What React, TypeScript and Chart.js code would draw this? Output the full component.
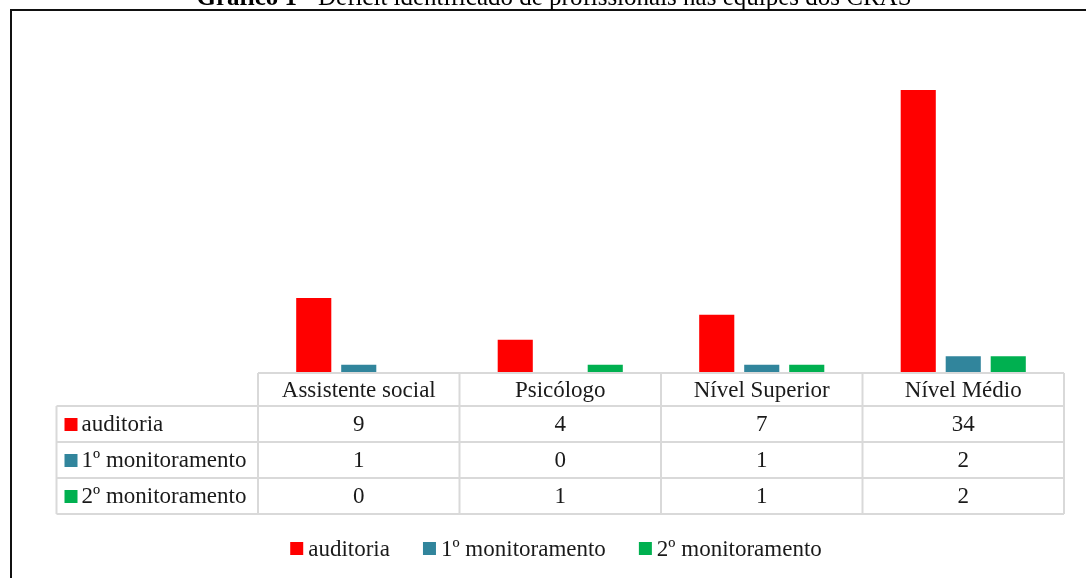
import React, { useEffect, useRef } from "react";
import { Chart, registerables } from "chart.js";

Chart.register(...registerables);

const categories = ["Assistente social", "Psicólogo", "Nível Superior", "Nível Médio"];
const auditoria = [9, 4, 7, 34];
const monitoramento1 = [1, 0, 1, 2];
const monitoramento2 = [0, 1, 1, 2];
const seriesLabels = ["auditoria", "1º monitoramento", "2º monitoramento"];
const seriesColors = ["#FF0000", "#31859C", "#00B050"];
const titleBold = "Gráfico 1";
const titleRest = " - Déficit identificado de profissionais nas equipes dos CRAS";

const FONT = '"Liberation Serif", "Times New Roman", serif';
const FS = 23;
const TFS = 25;

const framePlugin = {
  id: "frameTitle",
  beforeDraw(chart: any) {
    const ctx = chart.ctx;
    ctx.save();
    ctx.fillStyle = "#ffffff";
    ctx.fillRect(0, 0, chart.width, chart.height);
    ctx.fillStyle = "#111111";
    ctx.fillRect(10, 9, 2, chart.height);
    ctx.fillRect(10, 9, chart.width, 2);
    const cx = 554;
    ctx.textBaseline = "alphabetic";
    ctx.font = `bold ${TFS}px ${FONT}`;
    const wb = ctx.measureText(titleBold).width;
    ctx.font = `${TFS}px ${FONT}`;
    const wr = ctx.measureText(titleRest).width;
    const start = cx - (wb + wr) / 2;
    ctx.fillStyle = "#000000";
    ctx.font = `bold ${TFS}px ${FONT}`;
    ctx.fillText(titleBold, start, 5);
    ctx.font = `${TFS}px ${FONT}`;
    ctx.fillText(titleRest, start + wb, 5);
    ctx.restore();
  },
};

const tablePlugin = {
  id: "dataTable",
  afterDraw(chart: any) {
    const ctx = chart.ctx;
    const xs = chart.scales.x;
    const area = chart.chartArea;
    const n = categories.length;
    const catW = (area.right - area.left) / n;
    const headerLeft = area.left - catW;
    const rowHeights = [33, 36, 36, 36];
    const tops: number[] = [area.bottom];
    rowHeights.forEach((h, i) => tops.push(tops[i] + h));
    const series = [auditoria, monitoramento1, monitoramento2];

    ctx.save();
    ctx.strokeStyle = "#d9d9d9";
    ctx.lineWidth = 2;
    ctx.beginPath();
    ctx.moveTo(area.left, tops[0]);
    ctx.lineTo(area.right, tops[0]);
    for (let r = 1; r < tops.length; r++) {
      ctx.moveTo(headerLeft, tops[r]);
      ctx.lineTo(area.right, tops[r]);
    }
    ctx.moveTo(headerLeft, tops[1]);
    ctx.lineTo(headerLeft, tops[tops.length - 1]);
    for (let i = 0; i <= n; i++) {
      const x = i < n ? xs.getPixelForValue(i) - catW / 2 : xs.getPixelForValue(n - 1) + catW / 2;
      ctx.moveTo(x, tops[0]);
      ctx.lineTo(x, tops[tops.length - 1]);
    }
    ctx.stroke();

    ctx.fillStyle = "#1a1a1a";
    ctx.font = `${FS}px ${FONT}`;
    ctx.textAlign = "center";
    ctx.textBaseline = "middle";
    categories.forEach((c, i) => {
      ctx.fillText(c, xs.getPixelForValue(i), (tops[0] + tops[1]) / 2 + 1);
    });
    series.forEach((vals, r) => {
      const cy = (tops[r + 1] + tops[r + 2]) / 2 + 1;
      vals.forEach((v, i) => {
        ctx.fillStyle = "#1a1a1a";
        ctx.textAlign = "center";
        ctx.fillText(String(v), xs.getPixelForValue(i), cy);
      });
      ctx.fillStyle = seriesColors[r];
      ctx.fillRect(headerLeft + 8, cy - 7, 13, 13);
      ctx.fillStyle = "#1a1a1a";
      ctx.textAlign = "left";
      ctx.fillText(seriesLabels[r], headerLeft + 25, cy);
    });

    const ly = 549;
    const box = 13;
    const gapText = 5;
    const gapItem = 33;
    const widths = seriesLabels.map((l) => box + gapText + ctx.measureText(l).width);
    const total = widths.reduce((a, b) => a + b, 0) + gapItem * (widths.length - 1);
    let lx = 556 - total / 2;
    seriesLabels.forEach((l, i) => {
      ctx.fillStyle = seriesColors[i];
      ctx.fillRect(lx, ly - 7, box, box);
      ctx.fillStyle = "#1a1a1a";
      ctx.textAlign = "left";
      ctx.fillText(l, lx + box + gapText, ly + 1);
      lx += widths[i] + gapItem;
    });
    ctx.restore();
  },
};

export default function App() {
  const ref = useRef<HTMLCanvasElement>(null);
  useEffect(() => {
    if (!ref.current) return;
    const chart = new Chart(ref.current, {
      type: "bar",
      data: {
        labels: categories,
        datasets: [
          { label: seriesLabels[0], data: auditoria, backgroundColor: seriesColors[0] },
          { label: seriesLabels[1], data: monitoramento1, backgroundColor: seriesColors[1] },
          { label: seriesLabels[2], data: monitoramento2, backgroundColor: seriesColors[2] },
        ],
      },
      options: {
        responsive: false,
        animation: false,
        layout: { padding: { left: 258, right: 22, top: 40, bottom: 205 } },
        datasets: { bar: { categoryPercentage: 0.67, barPercentage: 0.78 } },
        scales: {
          x: { display: false },
          y: { display: false, min: 0, max: 40 },
        },
        plugins: {
          legend: { display: false },
          title: { display: false },
          tooltip: { enabled: false },
        },
      },
      plugins: [framePlugin, tablePlugin],
    });
    return () => chart.destroy();
  }, []);
  return (
    <div style={{ position: "absolute", left: 0, top: 0, width: 1086, height: 578 }}>
      <canvas ref={ref} width={1086} height={578} style={{ width: 1086, height: 578, display: "block" }} />
    </div>
  );
}
